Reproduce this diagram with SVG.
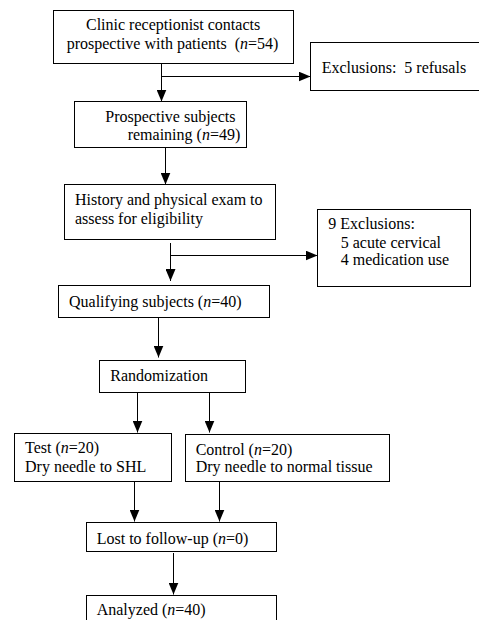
<svg xmlns="http://www.w3.org/2000/svg" width="479" height="620" viewBox="0 0 479 620">
<defs>
<marker id="ah" markerUnits="userSpaceOnUse" markerWidth="12" markerHeight="10" refX="12" refY="5" orient="auto">
<path d="M0,0 L12,5 L0,10 z" fill="#000"/>
</marker>
</defs>
<style>
.box{fill:#fff;stroke:#000;stroke-width:1}
text{font-family:'Liberation Serif','Times New Roman',serif;font-size:16px;fill:#000}
.i{font-style:italic}
.c{fill:none;stroke:#000;stroke-width:1}
.a{marker-end:url(#ah)}
</style>
<rect width="479" height="620" fill="#fff"/>
<g id="connectors">
<path class="c a" d="M161.5,63 V101.5"/>
<path class="c a" d="M161.5,76.5 H310.5"/>
<path class="c a" d="M165.5,148 V184.5"/>
<path class="c a" d="M170.5,243 V281"/>
<path class="c a" d="M170.5,255.5 H317.5"/>
<path class="c a" d="M158.5,317.5 V357.5"/>
<path class="c a" d="M137.5,392.5 V432.5"/>
<path class="c a" d="M209.5,392.5 V432.5"/>
<path class="c a" d="M134.5,481.5 V521.5"/>
<path class="c a" d="M219.5,482 V521.5"/>
<path class="c a" d="M173.5,553 V594.5"/>
</g>
<g id="n1">
<rect class="box" x="53.5" y="10.5" width="240" height="53"/>
<text x="86" y="30">Clinic receptionist contacts</text>
<text x="66.7" y="48.5" xml:space="preserve">prospective with patients  (<tspan class="i">n</tspan>=54)</text>
</g>
<g id="n2">
<rect class="box" x="310.5" y="42.5" width="169" height="48"/>
<text x="321.7" y="72.5" xml:space="preserve">Exclusions:  5 refusals</text>
</g>
<g id="n3">
<rect class="box" x="74.5" y="101.5" width="172" height="46"/>
<text x="105.3" y="121.5">Prospective subjects</text>
<text x="127.7" y="140">remaining (<tspan class="i">n</tspan>=49)</text>
</g>
<g id="n4">
<rect class="box" x="64.5" y="184.5" width="211" height="55"/>
<text x="75" y="205">History and physical exam to</text>
<text x="75" y="223.5">assess for eligibility</text>
</g>
<g id="n5">
<rect class="box" x="317.5" y="209.5" width="153" height="77"/>
<text x="328.3" y="229">9 Exclusions:</text>
<text x="340.7" y="247.5">5 acute cervical</text>
<text x="340.7" y="265">4 medication use</text>
</g>
<g id="n6">
<rect class="box" x="58.5" y="285.5" width="211" height="32"/>
<text x="69" y="306.5">Qualifying subjects (<tspan class="i">n</tspan>=40)</text>
</g>
<g id="n7">
<rect class="box" x="99.5" y="360.5" width="146" height="32"/>
<text x="110.3" y="381">Randomization</text>
</g>
<g id="n8">
<rect class="box" x="14.5" y="433.5" width="157" height="48"/>
<text x="25" y="453.3">Test (<tspan class="i">n</tspan>=20)</text>
<text x="25" y="471.7">Dry needle to SHL</text>
</g>
<g id="n9">
<rect class="box" x="185.5" y="434.5" width="204" height="47"/>
<text x="195.7" y="455">Control (<tspan class="i">n</tspan>=20)</text>
<text x="195.7" y="472.3">Dry needle to normal tissue</text>
</g>
<g id="n10">
<rect class="box" x="86.5" y="522.5" width="190" height="29"/>
<text x="96.7" y="544">Lost to follow-up (<tspan class="i">n</tspan>=0)</text>
</g>
<g id="n11">
<rect class="box" x="86.5" y="595.5" width="190" height="40"/>
<text x="96.7" y="615">Analyzed (<tspan class="i">n</tspan>=40)</text>
</g>
</svg>
